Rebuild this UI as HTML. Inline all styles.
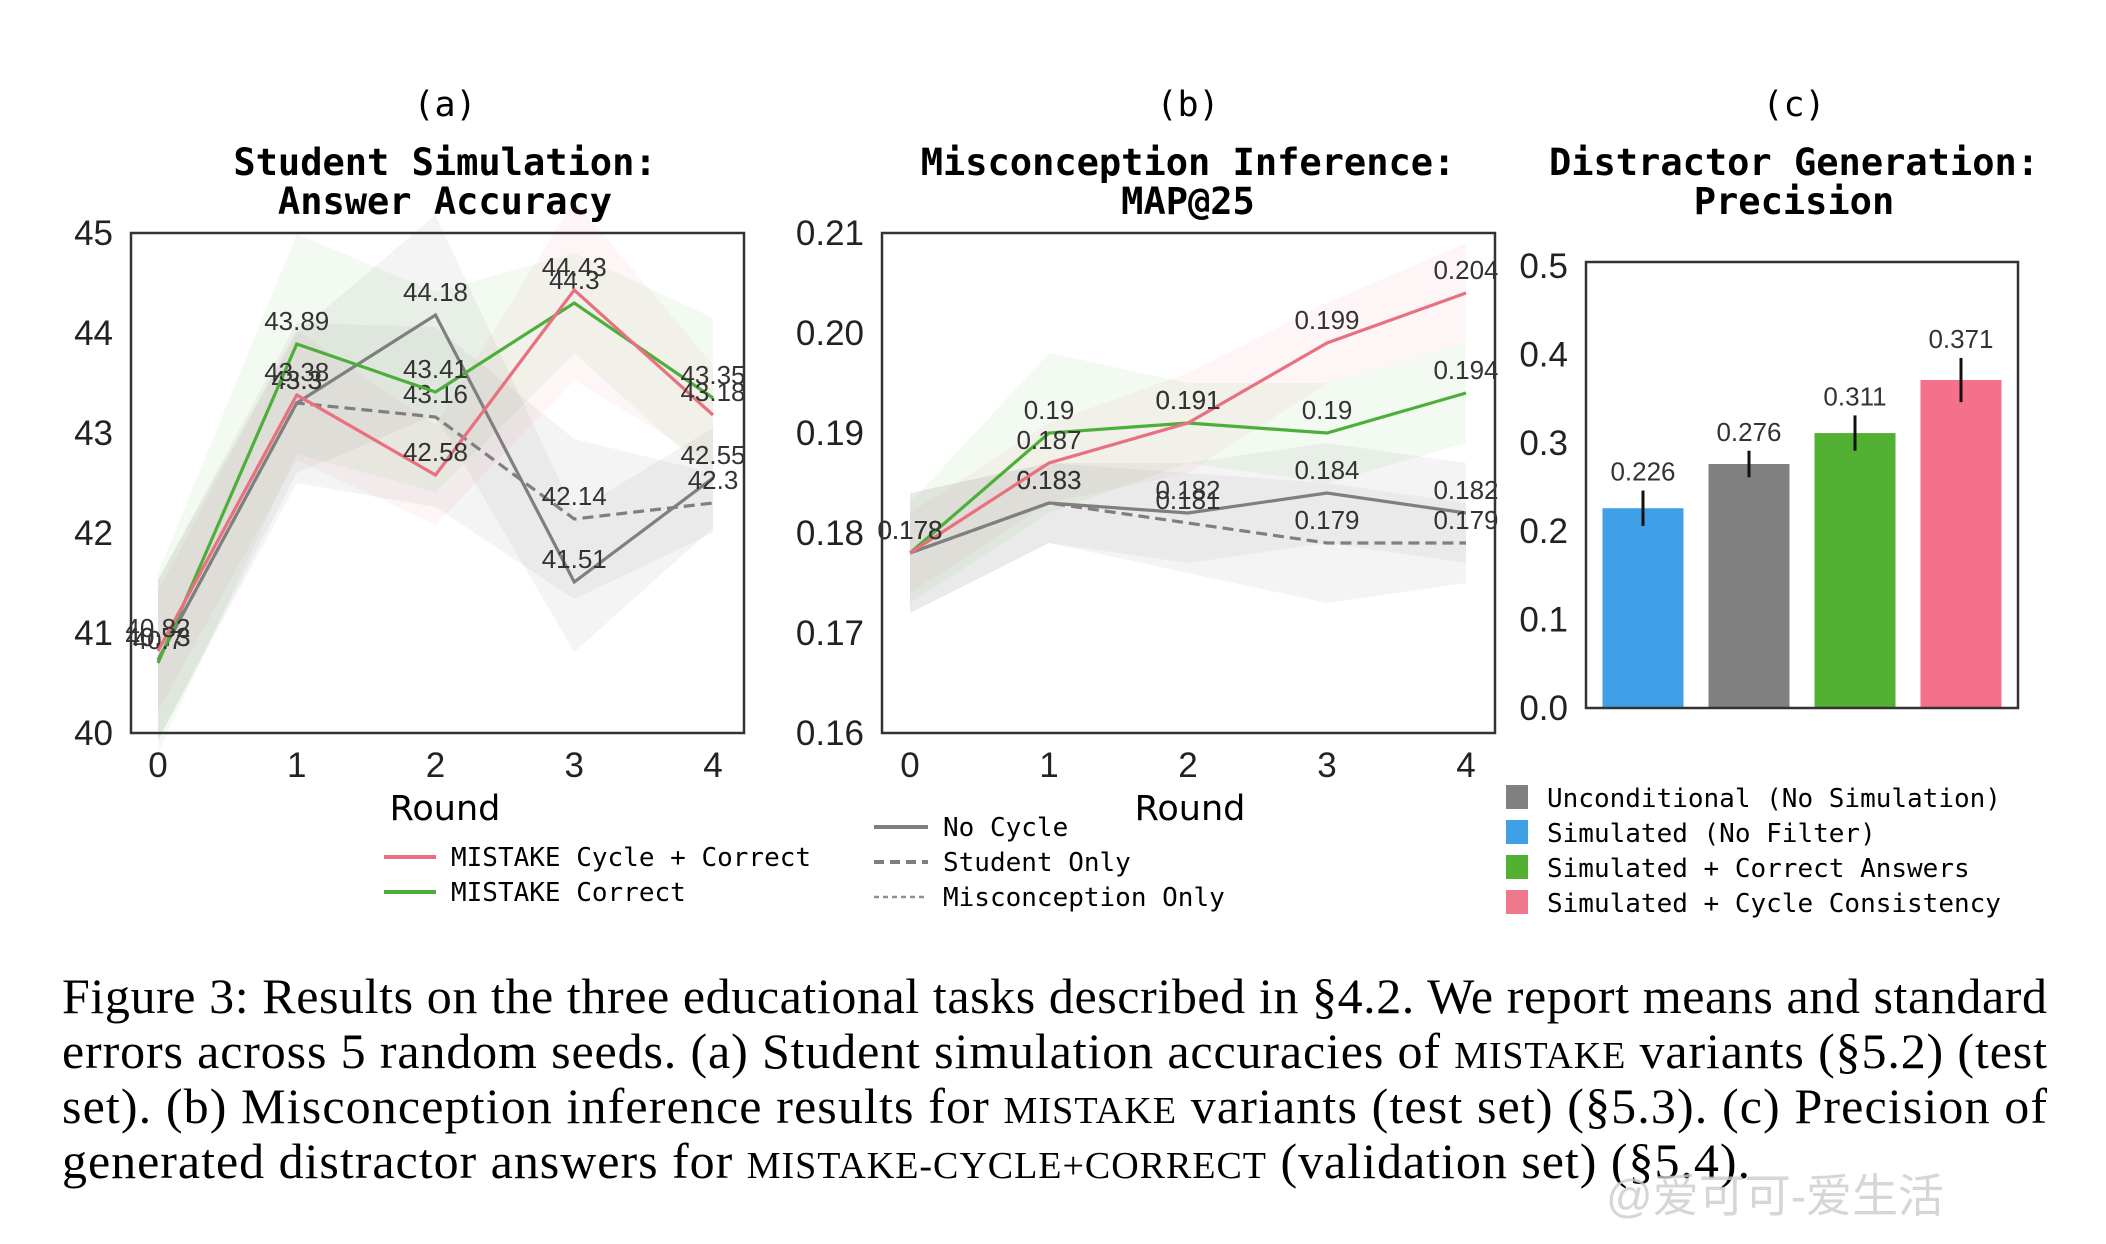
<!DOCTYPE html>
<html><head><meta charset="utf-8"><style>
body{margin:0;background:#fff;}
svg{display:block;}
.tick{font-family:"Liberation Sans",sans-serif;font-size:35px;fill:#222;}
.val{font-family:"Liberation Sans",sans-serif;font-size:26px;fill:#333;}
.ttl{font-family:"DejaVu Sans Mono","Liberation Mono",monospace;font-size:37px;font-weight:bold;fill:#000;}
.lab{font-family:"DejaVu Sans Mono","Liberation Mono",monospace;font-size:35px;fill:#000;}
.leg{font-family:"DejaVu Sans Mono","Liberation Mono",monospace;font-size:26px;fill:#000;}
.axl{font-family:"DejaVu Sans",sans-serif;font-size:35px;fill:#000;}
.cap{font-family:"Liberation Serif",serif;font-size:50px;fill:#000;}
</style></head><body>
<svg id="fig" width="2106" height="1244" viewBox="0 0 2106 1244" xmlns="http://www.w3.org/2000/svg">
<g>
<text class="lab" x="445" y="116" text-anchor="middle">(a)</text>
<text class="ttl" x="445" y="175" text-anchor="middle">Student Simulation:</text>
<text class="ttl" x="445" y="214" text-anchor="middle">Answer Accuracy</text>
</g>
<g>
<text class="lab" x="1188" y="116" text-anchor="middle">(b)</text>
<text class="ttl" x="1188" y="175" text-anchor="middle">Misconception Inference:</text>
<text class="ttl" x="1188" y="214" text-anchor="middle">MAP@25</text>
</g>
<g>
<text class="lab" x="1794" y="116" text-anchor="middle">(c)</text>
<text class="ttl" x="1794" y="175" text-anchor="middle">Distractor Generation:</text>
<text class="ttl" x="1794" y="214" text-anchor="middle">Precision</text>
</g>
<g id="pa"></g>
<g id="pb"></g>
<g id="pc"></g>

<text class="axl" x="445" y="820" text-anchor="middle">Round</text>
<text class="axl" x="1190" y="820" text-anchor="middle">Round</text>

<g>
<line x1="384" y1="857" x2="436" y2="857" stroke="#e8707f" stroke-width="4"/>
<text class="leg" x="451" y="866">MISTAKE Cycle + Correct</text>
<line x1="384" y1="892" x2="436" y2="892" stroke="#4caf3a" stroke-width="4"/>
<text class="leg" x="451" y="901">MISTAKE Correct</text>
</g>
<g>
<line x1="874" y1="827" x2="928" y2="827" stroke="#7f7f7f" stroke-width="4"/>
<text class="leg" x="943" y="836">No Cycle</text>
<line x1="874" y1="862" x2="928" y2="862" stroke="#7f7f7f" stroke-width="4" stroke-dasharray="10,6"/>
<text class="leg" x="943" y="871">Student Only</text>
<line x1="874" y1="897" x2="928" y2="897" stroke="#8f8f8f" stroke-width="2.5" stroke-dasharray="5,4"/>
<text class="leg" x="943" y="906">Misconception Only</text>
</g>
<g>
<rect x="1506" y="785" width="22" height="24" fill="#808080"/>
<text class="leg" x="1547" y="807">Unconditional (No Simulation)</text>
<rect x="1506" y="820" width="22" height="24" fill="#3fa0e8"/>
<text class="leg" x="1547" y="842">Simulated (No Filter)</text>
<rect x="1506" y="855" width="22" height="24" fill="#52b032"/>
<text class="leg" x="1547" y="877">Simulated + Correct Answers</text>
<rect x="1506" y="890" width="22" height="24" fill="#f0788c"/>
<text class="leg" x="1547" y="912">Simulated + Cycle Consistency</text>
</g>

<g>
<text class="cap" x="62" y="1013" textLength="1985" lengthAdjust="spacing">Figure 3: Results on the three educational tasks described in §4.2. We report means and standard</text>
<text class="cap" x="62" y="1068" textLength="1985" lengthAdjust="spacing">errors across 5 random seeds. (a) Student simulation accuracies of <tspan font-size="38">MISTAKE</tspan> variants (§5.2) (test</text>
<text class="cap" x="62" y="1123" textLength="1985" lengthAdjust="spacing">set). (b) Misconception inference results for <tspan font-size="38">MISTAKE</tspan> variants (test set) (§5.3). (c) Precision of</text>
<text class="cap" x="62" y="1178" textLength="1688" lengthAdjust="spacing">generated distractor answers for <tspan font-size="38">MISTAKE-CYCLE+CORRECT</tspan> (validation set) (§5.4).</text>
</g>
<text x="1606" y="1212" font-family="'Liberation Sans','Noto Sans CJK SC',sans-serif" font-size="46" fill="#ccc" opacity="0.8">@爱可可-爱生活</text>
</svg>
<script>
// Panel (a) data
const roundsA = [0,1,2,3,4];
const aCycle = [40.82,43.38,42.58,44.43,43.18];
const aCorrect = [40.7,43.89,43.41,44.3,43.35];
const aNoCycle = [40.73,43.3,44.18,41.51,42.55];
const aStudent = [40.73,43.3,43.16,42.14,42.3];
const aCycleErr = [0.6,0.65,0.5,0.9,0.5];
const aCorrectErr = [0.9,1.1,1.0,0.5,0.8];
const aNoCycleErr = [0.8,0.7,1.0,0.7,0.5];
const aStudentErr = [0.8,0.8,0.9,0.8,0.3];
const aTicks = [40,41,42,43,44,45];
// Panel (b) data
const bCycle = [0.178,0.187,0.191,0.199,0.204];
const bCorrect = [0.178,0.19,0.191,0.19,0.194];
const bNoCycle = [0.178,0.183,0.182,0.184,0.182];
const bStudent = [0.178,0.183,0.181,0.179,0.179];
const bCycleErr = [0.004,0.004,0.005,0.004,0.005];
const bCorrectErr = [0.005,0.008,0.004,0.005,0.005];
const bNoCycleErr = [0.006,0.004,0.005,0.005,0.005];
const bStudentErr = [0.006,0.004,0.005,0.006,0.004];
const bTicks = [0.16,0.17,0.18,0.19,0.20,0.21];
const bTickLabels = ["0.16","0.17","0.18","0.19","0.20","0.21"];
// Panel (c) data
const cCats = ["Simulated (No Filter)","Unconditional (No Simulation)","Simulated + Correct Answers","Simulated + Cycle Consistency"];
const cVals = [0.226,0.276,0.311,0.371];
const cErr = [0.02,0.015,0.02,0.025];
const cTicks = [0.0,0.1,0.2,0.3,0.4,0.5];
const cTickLabels = ["0.0","0.1","0.2","0.3","0.4","0.5"];

const NS="http://www.w3.org/2000/svg";
function mk(parent,tag,attrs){const e=document.createElementNS(NS,tag);for(const k in attrs)e.setAttribute(k,attrs[k]);parent.appendChild(e);return e;}
const C={pink:"#e8707f",green:"#4caf3a",gray:"#7f7f7f"};

function linePanel(g,o){
  const xs=v=>o.x0+(v-o.dmin)/(o.dmax-o.dmin)*(o.x1-o.x0);
  const ys=v=>o.bot-(v-o.ymin)/(o.ymax-o.ymin)*(o.bot-o.top);
  const series=o.series;
  series.forEach(s=>{
    const up=s.v.map((v,i)=>xs(roundsA[i])+","+ys(v+s.e[i]));
    const dn=s.v.map((v,i)=>xs(roundsA[i])+","+ys(v-s.e[i])).reverse();
    const p=mk(g,"polygon",{points:up.concat(dn).join(" "),fill:s.band,stroke:"none"});
    
    
  });
  series.forEach(s=>{
    const l=mk(g,"polyline",{points:s.v.map((v,i)=>xs(roundsA[i])+","+ys(v)).join(" "),fill:"none",stroke:s.c,"stroke-width":3.2});
    if(s.dash)l.setAttribute("stroke-dasharray",s.dash);
    
    
    s.v.forEach((v,i)=>{
      const t=mk(g,"text",{x:xs(roundsA[i]),y:ys(v)-14,"text-anchor":"middle",class:"val"});
      t.textContent=s.lab[i];
      
      
    });
  });
  const f=mk(g,"rect",{x:o.fl,y:o.top,width:o.fr-o.fl,height:o.bot-o.top,fill:"none",stroke:"#333","stroke-width":2.5});
  
  
  o.ticks.forEach((t,i)=>{
    const e=mk(g,"text",{x:o.fl-18,y:ys(t)+12,"text-anchor":"end",class:"tick"});
    e.textContent=o.tickLabels[i];
    
    
  });
  roundsA.forEach(r=>{
    const e=mk(g,"text",{x:xs(r),y:777,"text-anchor":"middle",class:"tick"});
    e.textContent=String(r);
    
    
  });
}
const fmt=v=>String(v);
const bandP="rgba(232,112,127,0.07)",bandG="rgba(90,180,70,0.07)",bandK="rgba(128,128,128,0.09)";
linePanel(document.getElementById("pa"),{x0:158,x1:713,dmin:0,dmax:4,fl:131,fr:744,top:233,bot:733,ymin:40,ymax:45,ticks:aTicks,tickLabels:aTicks.map(String),
 series:[
  {name:"a-no-cycle",v:aNoCycle,e:aNoCycleErr,c:C.gray,band:bandK,lab:aNoCycle.map(fmt)},
  {name:"a-student-only",v:aStudent,e:aStudentErr,c:C.gray,dash:"11,6",band:bandK,lab:aStudent.map(fmt)},
  {name:"a-mistake-correct",v:aCorrect,e:aCorrectErr,c:C.green,band:bandG,lab:aCorrect.map(fmt)},
  {name:"a-mistake-cycle",v:aCycle,e:aCycleErr,c:C.pink,band:bandP,lab:aCycle.map(fmt)}]});
linePanel(document.getElementById("pb"),{x0:910,x1:1466,dmin:0,dmax:4,fl:882,fr:1495,top:233,bot:733,ymin:0.16,ymax:0.21,ticks:bTicks,tickLabels:bTickLabels,
 series:[
  {name:"b-no-cycle",v:bNoCycle,e:bNoCycleErr,c:C.gray,band:bandK,lab:bNoCycle.map(fmt)},
  {name:"b-student-only",v:bStudent,e:bStudentErr,c:C.gray,dash:"11,6",band:bandK,lab:bStudent.map(fmt)},
  {name:"b-mistake-correct",v:bCorrect,e:bCorrectErr,c:C.green,band:bandG,lab:bCorrect.map(fmt)},
  {name:"b-mistake-cycle",v:bCycle,e:bCycleErr,c:C.pink,band:bandP,lab:bCycle.map(fmt)}]});

(function(){
  const g=document.getElementById("pc");
  const fl=1586,fr=2018,top=262,bot=708;
  const ys=v=>bot-v/0.5*(bot-266);
  const colors=["#3fa0e8","#808080","#52b032","#f5708a"];
  const slot=(fr-fl)/cCats.length, bw=81;
  cVals.forEach((v,i)=>{
    const cx=fl+slot*(i+0.5)+ (i-1.5)*-2;
    const r=mk(g,"rect",{x:cx-bw/2,y:ys(v),width:bw,height:bot-ys(v),fill:colors[i]});
    
    
    const el=mk(g,"line",{x1:cx,x2:cx,y1:ys(v+cErr[i]),y2:ys(v-cErr[i]),stroke:"#111","stroke-width":3});
    
    
    const t=mk(g,"text",{x:cx,y:ys(v+cErr[i])-10,"text-anchor":"middle",class:"val"});
    t.textContent=v.toFixed(3);
    
    
  });
  const f=mk(g,"rect",{x:fl,y:top,width:fr-fl,height:bot-top,fill:"none",stroke:"#333","stroke-width":2.5});
  
  
  cTicks.forEach((t,i)=>{
    const e=mk(g,"text",{x:fl-18,y:ys(t)+12,"text-anchor":"end",class:"tick"});
    e.textContent=cTickLabels[i];
    
    
  });
})();
</script>
</body></html>
